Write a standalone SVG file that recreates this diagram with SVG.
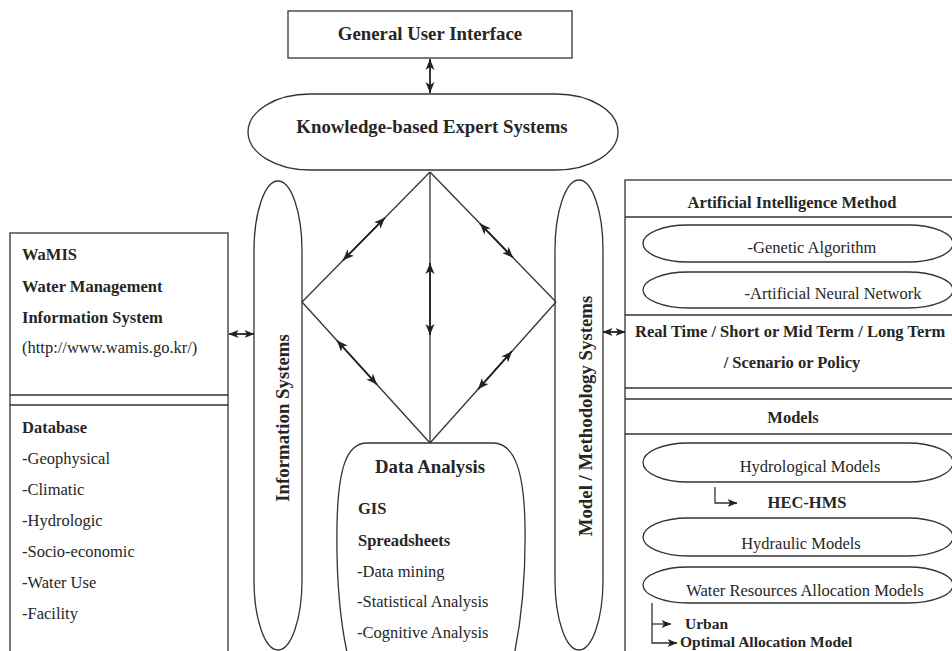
<svg xmlns="http://www.w3.org/2000/svg" width="952" height="651" viewBox="0 0 952 651">
<defs>
<marker id="ah" markerUnits="userSpaceOnUse" markerWidth="12" markerHeight="10" viewBox="0 0 12 10" refX="11" refY="5" orient="auto-start-reverse">
<path d="M0,0.5 L11,5 L0,9.5 L3,5 Z" fill="#222"/>
</marker>
<marker id="ahs" markerUnits="userSpaceOnUse" markerWidth="10" markerHeight="8" viewBox="0 0 10 8" refX="9.5" refY="4" orient="auto-start-reverse">
<path d="M0,0 L10,4 L0,8 L2.5,4 Z" fill="#222"/>
</marker>
</defs>
<style>
.s{fill:#fff;stroke:#333;stroke-width:1.3}
.n{fill:none;stroke:#333;stroke-width:1.3}
.t{font-family:"Liberation Serif","Times New Roman",serif;font-size:16.5px;fill:#262626}
.b{font-weight:bold}
.sm{font-size:15.5px}
.h{font-family:"Liberation Serif","Times New Roman",serif;font-size:18.8px;font-weight:bold;fill:#262626}
.m{text-anchor:middle}
.a{fill:none;stroke:#222;stroke-width:1.8}
</style>
<rect width="952" height="651" fill="#fff"/>

<g id="gui">
<rect class="s" x="288" y="11" width="284" height="47"/>
<text class="h m" x="430" y="40">General User Interface</text>
</g>

<g id="kes">
<rect class="s" x="248" y="94" width="370" height="76" rx="62" ry="38"/>
<text class="h m" x="432" y="133">Knowledge-based Expert Systems</text>
</g>

<g id="info-systems">
<rect class="s" x="254" y="181" width="48" height="469" rx="24" ry="70"/>
<text class="h m" transform="translate(289,418) rotate(-90)">Information Systems</text>
</g>

<g id="model-systems">
<rect class="s" x="555" y="180" width="48" height="470" rx="24" ry="70"/>
<text class="h m" transform="translate(592,416) rotate(-90)">Model / Methodology Systems</text>
</g>

<g id="wamis">
<rect class="s" x="10" y="233" width="218" height="430"/>
<line class="n" x1="10" y1="395" x2="228" y2="395"/>
<line class="n" x1="10" y1="405" x2="228" y2="405"/>
<text class="t b" x="22" y="260">WaMIS</text>
<text class="t b" x="22" y="292">Water Management</text>
<text class="t b" x="22" y="323">Information System</text>
<text class="t" x="22" y="353">(http://www.wamis.go.kr/)</text>
<text class="t b" x="22" y="433">Database</text>
<text class="t" x="22" y="464">-Geophysical</text>
<text class="t" x="22" y="495">-Climatic</text>
<text class="t" x="22" y="526">-Hydrologic</text>
<text class="t" x="22" y="557">-Socio-economic</text>
<text class="t" x="22" y="588">-Water Use</text>
<text class="t" x="22" y="619">-Facility</text>
</g>

<g id="data-analysis">
<path class="s" d="M367,443 L493,443 C514,443 524,470 525,525 C526,585 520,630 512,665 L350,665 C341,630 336,585 337,525 C338,470 346,443 367,443 Z"/>
<text class="h m" x="430" y="473">Data Analysis</text>
<text class="t b" x="358" y="514">GIS</text>
<text class="t b" x="358" y="546">Spreadsheets</text>
<text class="t" x="357" y="577">-Data mining</text>
<text class="t" x="357" y="607">-Statistical Analysis</text>
<text class="t" x="357" y="638">-Cognitive Analysis</text>
</g>

<g id="methods">
<rect class="s" x="625" y="180" width="350" height="490"/>
<line class="n" x1="625" y1="217" x2="975" y2="217"/>
<line class="n" x1="625" y1="315" x2="975" y2="315"/>
<line class="n" x1="625" y1="388" x2="975" y2="388"/>
<line class="n" x1="625" y1="399" x2="975" y2="399"/>
<line class="n" x1="625" y1="434" x2="975" y2="434"/>
<text class="t b m" x="792" y="208">Artificial Intelligence Method</text>
<rect class="s" x="643" y="225" width="310" height="37" rx="45" ry="18.5"/>
<text class="t m" x="812" y="253">-Genetic Algorithm</text>
<rect class="s" x="643" y="272" width="310" height="36" rx="45" ry="18"/>
<text class="t m" x="833" y="299">-Artificial Neural Network</text>
<text class="t b" x="635" y="337">Real Time / Short or Mid Term / Long Term</text>
<text class="t b m" x="792" y="368">/ Scenario or Policy</text>
<text class="t b m" x="793" y="423">Models</text>
<rect class="s" x="643" y="443" width="310" height="39" rx="45" ry="19.5"/>
<text class="t m" x="810" y="472">Hydrological Models</text>
<text class="t b m" x="807" y="508">HEC-HMS</text>
<rect class="s" x="643" y="518" width="310" height="38" rx="45" ry="19"/>
<text class="t m" x="801" y="549">Hydraulic Models</text>
<rect class="s" x="643" y="567" width="310" height="36" rx="45" ry="18"/>
<text class="t m" x="805" y="596">Water Resources Allocation Models</text>
<text class="t b sm" x="685" y="629">Urban</text>
<text class="t b sm" x="680" y="647">Optimal Allocation Model</text>
</g>

<g id="connectors">
<line class="n" x1="430" y1="172" x2="302" y2="302"/>
<line class="n" x1="430" y1="172" x2="556" y2="302"/>
<line class="n" x1="302" y1="302" x2="430" y2="443"/>
<line class="n" x1="556" y1="302" x2="430" y2="443"/>
<line class="n" x1="430" y1="172" x2="430" y2="443"/>
<line class="a" x1="430" y1="59" x2="430" y2="93" marker-start="url(#ah)" marker-end="url(#ah)"/>
<line class="a" x1="343" y1="260.3" x2="385" y2="217.7" marker-start="url(#ah)" marker-end="url(#ah)"/>
<line class="a" x1="480" y1="223.6" x2="513" y2="257.7" marker-start="url(#ah)" marker-end="url(#ah)"/>
<line class="a" x1="337" y1="340.5" x2="377" y2="384.6" marker-start="url(#ah)" marker-end="url(#ah)"/>
<line class="a" x1="512" y1="351.2" x2="478" y2="389.3" marker-start="url(#ah)" marker-end="url(#ah)"/>
<line class="a" x1="430" y1="263" x2="430" y2="335" marker-start="url(#ah)" marker-end="url(#ah)"/>
<line class="a" x1="229" y1="334" x2="254" y2="334" marker-start="url(#ahs)" marker-end="url(#ahs)"/>
<line class="a" x1="603" y1="332" x2="625" y2="332" marker-start="url(#ahs)" marker-end="url(#ahs)"/>
<path class="n" d="M715,487 V503 H737" marker-end="url(#ahs)"/>
<path class="n" d="M652,603 V643 H677" marker-end="url(#ahs)"/>
<path class="n" d="M652,624 H671" marker-end="url(#ahs)"/>
</g>
</svg>
